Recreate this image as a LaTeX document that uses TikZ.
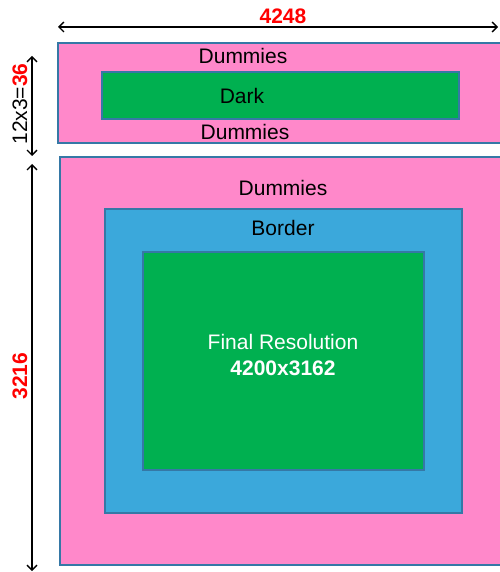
\documentclass[tikz,border=0pt]{standalone}
\usepackage{fontspec}
\setmainfont{Liberation Sans}
\usetikzlibrary{arrows.meta,positioning}
\definecolor{dummypink}{HTML}{FF88CA}
\definecolor{darkgreen}{HTML}{00B050}
\definecolor{borderblue}{HTML}{3BA8DB}
\definecolor{edgeblue}{HTML}{3578A6}
\definecolor{dimred}{HTML}{FF0000}

\begin{document}
\begin{tikzpicture}[
  x=1pt, y=-1pt,
  area/.style={draw=edgeblue, line width=1.4pt},
  lbl/.style={font=\fontsize{21}{25}\selectfont, inner sep=0pt},
  dim/.style={{Straight Barb[length=5pt,width=10pt]}-{Straight Barb[length=5pt,width=10pt]}, line width=1.4pt},
  dimlbl/.style={font=\fontsize{21}{25}\selectfont\bfseries, text=dimred, inner sep=0pt}
]
\useasboundingbox (0,0) rectangle (499,572);
% dark rows
\draw[area, fill=dummypink] (58,43) rectangle (506,143);
\draw[area, fill=darkgreen] (102,72) rectangle (459,119);
\node[lbl] (dumtop) at (243,56) {Dummies};
\node[lbl] (dark) at (242,96) {Dark};
\node[lbl] (dumbot) at (245,132) {Dummies};
% active area
\draw[area, fill=dummypink] (60,157) rectangle (506,565);
\draw[area, fill=borderblue] (105,209) rectangle (462,513);
\draw[area, fill=darkgreen] (143,252) rectangle (424,470);
\node[lbl] (dummies) at (283,188) {Dummies};
\node[lbl] (border) at (283,228) {Border};
\node[lbl, text=white] (final) at (283,342) {Final Resolution};
\node[lbl, text=white, font=\fontsize{21}{25}\selectfont\bfseries] (res) at (283,368) {4200x3162};
% dimensions
\coordinate (wl) at (58,27);
\coordinate (wr) at (498,27);
\draw[dim] (wl) -- (wr);
\node[dimlbl] (width) at (283,16) {4248};
\coordinate (dt) at (32,56);
\coordinate (db) at (32,156);
\draw[dim] (dt) -- (db);
\node[lbl, rotate=90] (darkh) at (20,104) {12x3=\textcolor{dimred}{\bfseries 36}};
\coordinate (at) at (32,164);
\coordinate (ab) at (32,571);
\draw[dim] (at) -- (ab);
\node[dimlbl, rotate=90] (acth) at (20,376) {3216};
\end{tikzpicture}
\end{document}
